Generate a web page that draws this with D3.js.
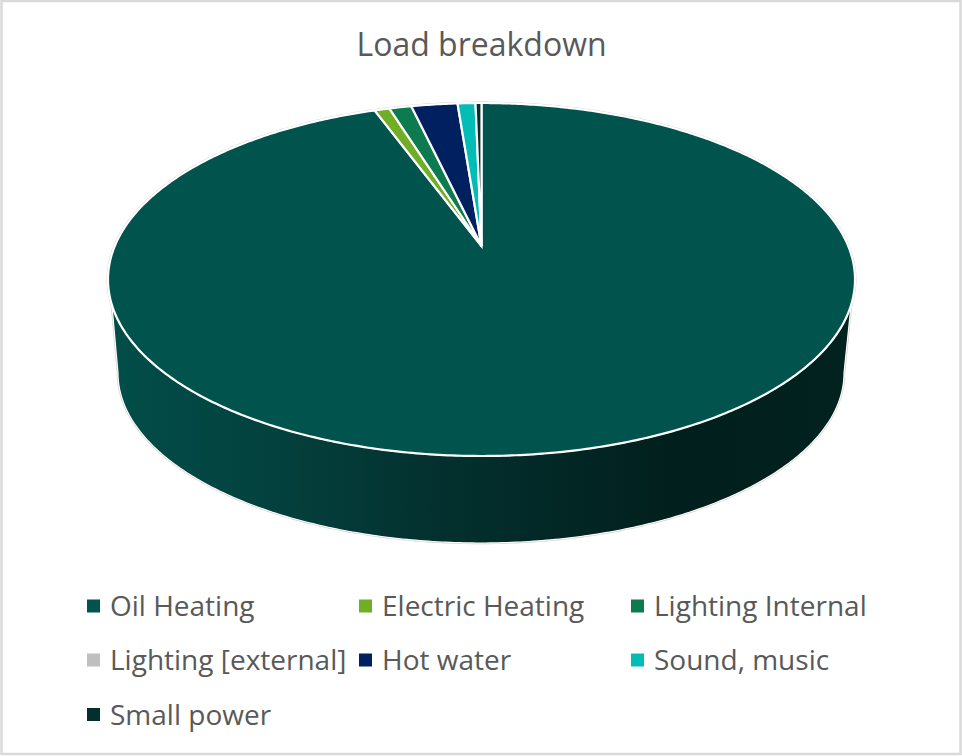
<!DOCTYPE html>
<html>
<head>
<meta charset="utf-8">
<title>Load breakdown</title>
<script src="https://cdn.jsdelivr.net/npm/d3@7/dist/d3.min.js"></script>
<style>
  html, body { margin: 0; padding: 0; background: #fff; }
  svg { display: block; }
  text { font-family: "Open Sans", sans-serif; fill: #595959; }
</style>
</head>
<body>
<svg id="chart" width="962" height="756"></svg>
<script>
// Load shares, percent of the total
const categories = ["Oil Heating", "Electric Heating", "Lighting Internal", "Lighting [external]", "Hot water", "Sound, music", "Small power"];
const shares = [94.4, 0.78, 1.16, 0, 2.4, 0.93, 0.31];
const colors = ["#01534e", "#6fae25", "#0e7a50", "#bfbfbf", "#00205f", "#02bdb5", "#032f2c"];
const chartTitle = "Load breakdown";

// Wall shading, left to right across the visible side of the disc
const wallShade = [
  [0.00, "#024e49"], [0.25, "#033f3c"], [0.45, "#03302e"],
  [0.76, "#011f1d"], [1.00, "#01221f"]
];

const width = 962, height = 756;
const svg = d3.select("#chart");

// Camera distance of the perspective projection, in disc radii
const camera = 5.269;
const persp = (a) => {
  const x = Math.sin(a), y = -Math.cos(a);
  return [x / (camera - y), y / (camera - y)];
};

// Screen scales of the top face and of the bottom face of the disc
const topX = d3.scaleLinear().domain([0, 0.1933]).range([481.5, 855]);
const topY = d3.scaleLinear().domain([0, 1 / (camera - 1)]).range([246, 456]);
const baseX = d3.scaleLinear().domain([0, 0.1933]).range([481, 844]);
const baseY = d3.scaleLinear().domain([0, 1 / (camera - 1)]).range([340.7, 543]);

const topPoint = (a) => { const [u, v] = persp(a); return [topX(u), topY(v)]; };
const basePoint = (a) => { const [u, v] = persp(a); return [baseX(u), baseY(v)]; };

const samples = (a0, a1) => {
  const n = Math.max(2, Math.ceil(Math.abs(a1 - a0) / 0.01));
  return d3.range(n + 1).map((i) => a0 + (a1 - a0) * i / n);
};
const line = d3.line();

// Horizontal shading of the disc wall
const defs = svg.append("defs");
const grad = defs.append("linearGradient")
  .attr("id", "wall")
  .attr("gradientUnits", "userSpaceOnUse")
  .attr("x1", 110).attr("x2", 852).attr("y1", 0).attr("y2", 0);
grad.selectAll("stop").data(wallShade).join("stop")
  .attr("offset", (d) => d[0])
  .attr("stop-color", (d) => d[1]);

// Chart frame
svg.append("rect")
  .attr("x", 1.5).attr("y", 1)
  .attr("width", width - 3).attr("height", height - 3)
  .attr("fill", "#fff")
  .attr("stroke", "#d9d9d9")
  .attr("stroke-width", 2.5);

// Title
svg.append("text")
  .attr("x", 481.5).attr("y", 56)
  .attr("text-anchor", "middle")
  .attr("font-size", 32)
  .text(chartTitle);

// Visible wall: front arc of the top rim joined to the front arc of the base rim
const rad = (deg) => deg * Math.PI / 180;
const wallPts = [
  ...samples(rad(109), rad(251)).map(topPoint),
  ...samples(rad(259), rad(101)).map(basePoint)
];
const wallPath = line(wallPts) + "Z";
const fullRim = line(samples(0, 2 * Math.PI).map(topPoint)) + "Z";

// Thin grey halo around the silhouette
svg.append("path").attr("d", wallPath)
  .attr("fill", "none").attr("stroke", "#cfcfcf").attr("stroke-width", 2.4);
svg.append("path").attr("d", fullRim)
  .attr("fill", "none").attr("stroke", "#cfcfcf").attr("stroke-width", 2.8);

svg.append("path").attr("d", wallPath)
  .attr("fill", "url(#wall)")
  .attr("stroke", "#fff").attr("stroke-width", 1.2);

// Top face slices, clockwise from twelve o'clock
const pie = d3.pie().sort(null).value((d) => d.share);
const arcs = pie(categories.map((name, i) => ({ name, share: shares[i], color: colors[i] })))
  .filter((d) => d.data.share > 0);

const apex = [topX(0), topY(0)];
svg.append("g").selectAll("path").data(arcs).join("path")
  .attr("d", (d) => line([apex, ...samples(d.startAngle, d.endAngle).map(topPoint)]) + "Z")
  .attr("fill", (d) => d.data.color)
  .attr("stroke", "#fff")
  .attr("stroke-width", 2.2)
  .attr("stroke-linejoin", "miter");

// Legend, three columns filled row by row
const legendX = d3.scaleOrdinal().domain([0, 1, 2]).range([87, 359, 631]);
const legendY = d3.scaleOrdinal().domain([0, 1, 2]).range([606, 660, 714.5]);
const items = svg.append("g").selectAll("g").data(categories).join("g")
  .attr("transform", (d, i) => `translate(${legendX(i % 3)},${legendY(Math.floor(i / 3))})`);
items.append("rect")
  .attr("x", 0).attr("y", -6.5)
  .attr("width", 13).attr("height", 13)
  .attr("fill", (d, i) => colors[i]);
items.append("text")
  .attr("x", 23).attr("y", 10)
  .attr("font-size", 28)
  .text((d) => d);
</script>
</body>
</html>
